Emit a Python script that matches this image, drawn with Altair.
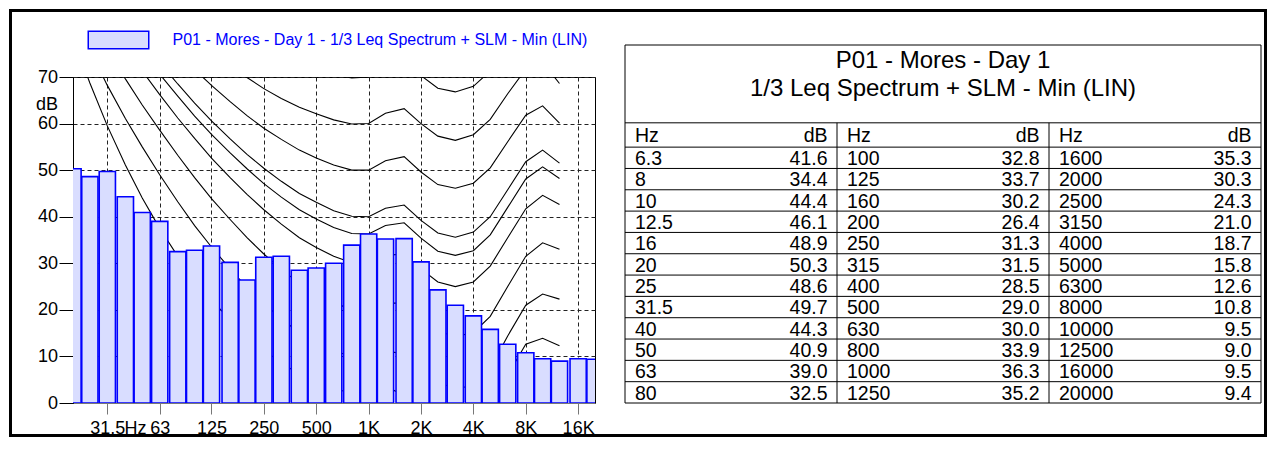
import altair as alt
import pandas as pd

FONT = "Liberation Sans"
BLUE = "#0000ff"
BAR_FILL = "#d9ddff"

# ---------------- data ----------------
series_name = "P01 - Mores - Day 1 - 1/3 Leq Spectrum + SLM - Min (LIN)"
table_title = ["P01 - Mores - Day 1", "1/3 Leq Spectrum + SLM - Min (LIN)"]

band_hz = ["6.3", "8", "10", "12.5", "16", "20", "25", "31.5", "40", "50", "63", "80",
           "100", "125", "160", "200", "250", "315", "400", "500", "630", "800", "1000", "1250",
           "1600", "2000", "2500", "3150", "4000", "5000", "6300", "8000", "10000", "12500", "16000", "20000"]
band_db = [41.6, 34.4, 44.4, 46.1, 48.9, 50.3, 48.6, 49.7, 44.3, 40.9, 39.0, 32.5,
           32.8, 33.7, 30.2, 26.4, 31.3, 31.5, 28.5, 29.0, 30.0, 33.9, 36.3, 35.2,
           35.3, 30.3, 24.3, 21.0, 18.7, 15.8, 12.6, 10.8, 9.5, 9.0, 9.5, 9.4]

tick_hz = [31.5, 63, 125, 250, 500, 1000, 2000, 4000, 8000, 16000]
y_ticks = [0, 10, 20, 30, 40, 50, 60, 70]

contour_hz = [20, 25, 31.5, 40, 50, 63, 80, 100, 125, 160, 200, 250, 315, 400, 500, 630,
              800, 1000, 1250, 1600, 2000, 2500, 3150, 4000, 5000, 6300, 8000, 10000, 12500]
threshold = [78.5, 68.7, 59.5, 51.1, 44.0, 37.5, 31.5, 26.5, 22.1, 17.9, 14.4, 11.4, 8.6, 6.2, 4.4,
             3.0, 2.2, 2.4, 3.5, 1.7, -1.3, -4.2, -6.0, -5.4, -1.5, 6.0, 12.6, 13.9, 12.3]
phon10 = [83.8, 75.8, 68.2, 61.1, 55.0, 49.0, 43.2, 38.1, 33.5, 28.8, 24.8, 21.3, 18.1, 15.1, 13.0,
          11.2, 10.0, 10.0, 11.3, 10.4, 7.3, 4.5, 3.0, 3.8, 7.5, 14.4, 21.0, 23.4, 22.3]
phon20 = [89.6, 82.7, 76.0, 69.6, 64.0, 58.6, 53.2, 48.4, 43.9, 39.4, 35.5, 32.0, 28.7, 25.7, 23.4,
          21.5, 20.1, 20.0, 21.5, 21.4, 18.2, 15.4, 14.3, 15.1, 18.6, 25.0, 31.5, 34.4, 33.0]
phon30 = [94.9, 88.5, 82.4, 76.5, 71.3, 66.2, 61.2, 56.8, 52.6, 48.4, 44.8, 41.5, 38.4, 35.5, 33.4,
          31.5, 30.1, 30.0, 31.7, 32.0, 28.8, 26.0, 25.0, 26.0, 29.4, 35.5, 41.7, 44.6, 42.6]
phon36 = [98.0, 92.0, 86.1, 80.4, 75.4, 70.6, 65.9, 61.6, 57.7, 53.7, 50.3, 47.1, 44.2, 41.5, 39.5,
          37.7, 36.4, 36.3, 38.1, 38.7, 35.4, 32.6, 31.7, 32.7, 36.1, 42.0, 48.1, 50.7, 48.2]
phon40 = [99.9, 93.9, 88.2, 82.6, 77.8, 73.1, 68.5, 64.4, 60.6, 56.7, 53.4, 50.4, 47.6, 45.0, 43.1,
          41.3, 40.1, 40.0, 41.8, 42.5, 39.2, 36.5, 35.6, 36.7, 40.0, 45.8, 51.8, 54.3, 51.5]
phon50 = [104.7, 99.2, 93.7, 88.5, 84.0, 79.6, 75.4, 71.6, 68.2, 64.7, 61.7, 59.0, 56.6, 54.3, 52.6,
          51.1, 50.0, 50.0, 52.0, 52.9, 49.6, 46.9, 46.1, 47.2, 50.5, 56.1, 61.8, 63.8, 60.1]
phon60 = [109.5, 104.2, 99.1, 94.2, 90.0, 85.9, 82.1, 78.7, 75.6, 72.5, 69.9, 67.5, 65.4, 63.5, 62.1,
          60.8, 59.9, 60.0, 62.2, 63.2, 60.0, 57.3, 56.4, 57.6, 60.9, 66.4, 71.7, 73.2, 68.6]
phon70 = [114.3, 109.3, 104.4, 99.8, 95.9, 92.2, 88.6, 85.6, 82.9, 80.2, 77.9, 75.9, 74.2, 72.6, 71.5,
          70.5, 69.8, 70.0, 72.3, 73.5, 70.3, 67.6, 66.8, 68.0, 71.3, 76.6, 81.5, 82.5, 77.0]

# ---------------- tables for the library ----------------
spec = pd.DataFrame({"hz_label": band_hz, "db": band_db})
spec["hz"] = spec["hz_label"].astype(float)
spec["series"] = series_name
spec["col"] = [i // 12 for i in range(len(spec))]
spec["row"] = [i % 12 for i in range(len(spec))]

curves = {"threshold": threshold, "10": phon10, "20": phon20, "30": phon30, "36.3": phon36,
          "40": phon40, "50": phon50, "60": phon60, "70": phon70}
contours = pd.DataFrame([{"curve": k, "hz": f, "level": v}
                         for k, vals in curves.items() for f, v in zip(contour_hz, vals)])

# ---------------- left: spectrum ----------------
xscale = alt.Scale(type="log", domain=[20, 20000], nice=False)
yscale = alt.Scale(domain=[0, 70], nice=False)

xaxis = alt.Axis(values=tick_hz,
                 labelExpr="datum.value >= 1000 ? (datum.value / 1000) + 'K' : '' + datum.value",
                 grid=True, gridDash=[4, 3], gridColor="#222", gridWidth=1,
                 tickSize=11, tickColor="#777", domainColor="#777",
                 labelFontSize=18, labelColor="black", labelFont=FONT, labelPadding=5,
                 labelFlush=False, labelOverlap=False,
                 title="Hz", titleX=62, titleY=30, titleAlign="center", titleBaseline="alphabetic",
                 titleFontSize=18, titleFontWeight="normal", titleFont=FONT, titleColor="black")
yaxis = alt.Axis(values=y_ticks, grid=True, gridDash=[4, 3], gridColor="#222", gridWidth=1,
                 tickSize=14, tickColor="black", domainColor="black",
                 labelFontSize=18, labelColor="black", labelFont=FONT, labelPadding=1.5,
                 title="dB", titleAngle=0, titleX=-15.5, titleY=32, titleAlign="right",
                 titleBaseline="alphabetic", titleFontSize=18, titleFontWeight="normal",
                 titleFont=FONT, titleColor="black")

lines = alt.Chart(contours).mark_line(color="black", strokeWidth=1.1, clip=True).encode(
    x=alt.X("hz:Q", scale=xscale, axis=xaxis),
    y=alt.Y("level:Q", scale=yscale, axis=yaxis),
    detail="curve:N",
)

bars = alt.Chart(spec).transform_filter("datum.hz >= 20").transform_calculate(
    lo="datum.hz * pow(2, -0.155)", hi="datum.hz * pow(2, 0.155)"
).mark_bar(stroke=BLUE, strokeWidth=1.6, clip=True).encode(
    x=alt.X("lo:Q", scale=xscale),
    x2="hi:Q",
    y=alt.Y("db:Q", scale=yscale),
    y2=alt.Y2Datum(0),
    color=alt.Color("series:N", scale=alt.Scale(range=[BAR_FILL]),
                    legend=alt.Legend(orient="none", legendX=14.5, legendY=-68, title=None,
                                      symbolType="M-1,-0.29H1V0.29H-1Z", symbolSize=3660,
                                      symbolStrokeColor=BLUE, symbolStrokeWidth=1.5,
                                      symbolOpacity=1, labelColor=BLUE, labelFontSize=16,
                                      labelFont=FONT, labelOffset=23, padding=0, labelLimit=0)),
)

frame = alt.Chart(pd.DataFrame({"k": [0]})).mark_rect(
    fill="transparent", stroke="black", strokeWidth=3
).encode(x=alt.value(-62.5), x2=alt.value(1192.5), y=alt.value(-66.5), y2=alt.value(358.5))

left = alt.layer(lines, bars, frame).properties(
    width=522, height=326, view=alt.ViewBackground(stroke="black", strokeWidth=1)
).resolve_legend(color="independent")

# ---------------- right: table ----------------
TOP = -4.79
HEADER_TOP = -1.14
tx = alt.Scale(domain=[0, 3], nice=False, zero=False)
ty = alt.Scale(domain=[TOP, 12], range=[-32, 326], nice=False, zero=False)

one = pd.DataFrame({"k": [0]})
box = alt.Chart(one).mark_rect(fill="transparent", stroke="black", strokeWidth=1).encode(
    x=alt.XDatum(0, scale=tx, axis=None), x2=alt.X2Datum(3),
    y=alt.YDatum(TOP, scale=ty, axis=None), y2=alt.Y2Datum(12),
)
hl = alt.Chart(pd.DataFrame({"y": [HEADER_TOP] + list(range(0, 12))})).mark_rule(
    color="black", strokeWidth=1).encode(
    x=alt.XDatum(0, scale=tx, axis=None), x2=alt.X2Datum(3),
    y=alt.Y("y:Q", scale=ty, axis=None),
)
vl = alt.Chart(pd.DataFrame({"x": [1, 2]})).mark_rule(color="black", strokeWidth=1).encode(
    x=alt.X("x:Q", scale=tx, axis=None),
    y=alt.YDatum(HEADER_TOP, scale=ty, axis=None), y2=alt.Y2Datum(12),
)
hdr = pd.DataFrame({"c": [0, 1, 2]})
hdr_hz = alt.Chart(hdr).mark_text(text="Hz", align="left", baseline="alphabetic", dx=10, dy=-5.3,
                                  fontSize=19.5, font=FONT, color="black").encode(
    x=alt.X("c:Q", scale=tx, axis=None), y=alt.YDatum(0, scale=ty, axis=None))
hdr_db = alt.Chart(hdr).transform_calculate(c1="datum.c + 1").mark_text(
    text="dB", align="right", baseline="alphabetic", dx=-9.5, dy=-5.3,
    fontSize=19.5, font=FONT, color="black").encode(
    x=alt.X("c1:Q", scale=tx, axis=None), y=alt.YDatum(0, scale=ty, axis=None))

cell_hz = alt.Chart(spec).transform_calculate(r1="datum.row + 1").mark_text(
    align="left", baseline="alphabetic", dx=10, dy=-3.4, fontSize=19.5, font=FONT, color="black"
).encode(x=alt.X("col:Q", scale=tx, axis=None), y=alt.Y("r1:Q", scale=ty, axis=None),
         text="hz_label:N")
cell_db = alt.Chart(spec).transform_calculate(r1="datum.row + 1", c1="datum.col + 1").mark_text(
    align="right", baseline="alphabetic", dx=-9.5, dy=-3.4, fontSize=19.5, font=FONT, color="black"
).encode(x=alt.X("c1:Q", scale=tx, axis=None), y=alt.Y("r1:Q", scale=ty, axis=None),
         text=alt.Text("db:Q", format=".1f"))
title_txt = alt.Chart(one).mark_text(text=table_title, lineHeight=28, fontSize=24, font=FONT,
                                     align="center", baseline="alphabetic", color="black").encode(
    x=alt.XDatum(1.5, scale=tx, axis=None), y=alt.YDatum(-3.7, scale=ty, axis=None))

right = alt.layer(box, hl, vl, hdr_hz, hdr_db, cell_hz, cell_db, title_txt).properties(
    width=636, height=326, view=alt.ViewBackground(strokeWidth=0)
)

chart = alt.hconcat(left, right, spacing=30, bounds="flush").properties(
    padding=0, background="white"
).configure(font=FONT)

chart.save("out.html", embed_options={"renderer": "svg", "actions": False})
